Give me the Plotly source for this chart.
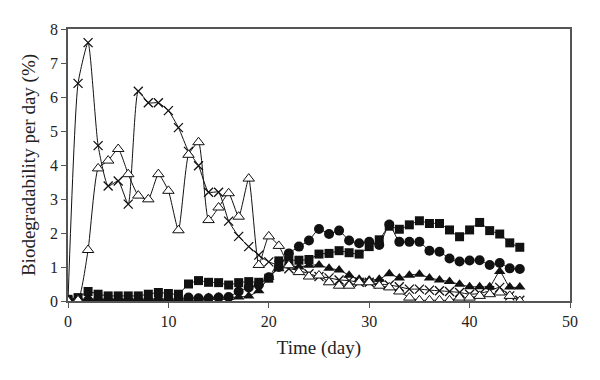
import plotly.graph_objects as go

days = list(range(0, 46))

cross_vals = [0.0, 6.4, 7.6, 4.57, 3.38, 3.53, 2.85, 6.17, 5.83, 5.83, 5.6, 5.1, 4.4, 3.98, 3.2, 3.2,
              2.35, 1.9, 1.6, 1.35, 1.15, 1.05, 0.95, 0.9, 0.8, 0.72, 0.68, 0.62, 0.6, 0.55, 0.55,
              0.5, 0.47, 0.42, 0.35, 0.35, 0.32, 0.3, 0.28, 0.25, 0.2, 0.22, 0.3, 0.4, 0.15, 0.02]

open_tri_vals = [0.0, 0.02, 1.5, 3.9, 4.13, 4.47, 3.73, 3.1, 2.99, 3.73, 3.24, 2.08, 4.3, 4.67, 2.38, 2.75,
                 3.17, 2.48, 3.6, 1.06, 1.9, 1.62, 1.05, 0.85, 0.72, 0.75, 0.55, 0.45, 0.45, 0.55, 0.55,
                 0.45, 0.4, 0.28, 0.1, 0.02, 0.02, 0.02, 0.02, 0.1, 0.1, 0.15, 0.2, 0.25, 0.15, 0.0]

square_vals = [0.05, 0.1, 0.28, 0.2, 0.15, 0.15, 0.15, 0.15, 0.2, 0.25, 0.22, 0.2, 0.5, 0.6, 0.55, 0.54,
               0.47, 0.54, 0.57, 0.55, 0.67, 1.18, 1.2, 1.2, 1.22, 1.38, 1.4, 1.48, 1.42, 1.38, 1.6,
               1.8, 2.2, 2.11, 2.24, 2.36, 2.28, 2.28, 2.09, 1.89, 2.09, 2.31, 2.07, 1.97, 1.71, 1.58]

circle_vals = [0.02, 0.02, 0.02, 0.02, 0.02, 0.02, 0.02, 0.02, 0.02, 0.02, 0.02, 0.03, 0.1, 0.08, 0.08, 0.1,
               0.12, 0.28, 0.4, 0.47, 0.7, 1.0, 1.4, 1.6, 1.78, 2.12, 1.97, 2.07, 1.78, 1.7, 1.74,
               1.65, 2.25, 1.74, 1.74, 1.74, 1.48, 1.45, 1.25, 1.16, 1.19, 1.2, 1.06, 1.12, 0.96, 0.94]

filled_tri_vals = [0.02, 0.03, 0.05, 0.05, 0.04, 0.05, 0.05, 0.05, 0.06, 0.06, 0.06, 0.06, 0.06, 0.08, 0.1, 0.12,
                   0.1, 0.12, 0.15, 0.3, 0.7, 0.95, 1.05, 1.0, 1.05, 1.06, 0.96, 0.91, 0.76, 0.64, 0.62,
                   0.64, 0.8, 0.68, 0.76, 0.79, 0.68, 0.62, 0.57, 0.49, 0.42, 0.42, 0.42, 0.87, 0.41, 0.41]

x_ticks = [0, 10, 20, 30, 40, 50]
y_ticks = [0, 1, 2, 3, 4, 5, 6, 7, 8]

BLACK = "#111111"
line_style = dict(color=BLACK, width=1, shape="spline", smoothing=0.5)

fig = go.Figure()

fig.add_trace(go.Scatter(x=days, y=square_vals, mode="lines+markers", line=line_style,
                         marker=dict(symbol="square", size=9, color=BLACK)))
fig.add_trace(go.Scatter(x=days, y=circle_vals, mode="lines+markers", line=line_style,
                         marker=dict(symbol="circle", size=10, color=BLACK)))
fig.add_trace(go.Scatter(x=days, y=filled_tri_vals, mode="lines+markers", line=line_style,
                         marker=dict(symbol="triangle-up", size=10, color=BLACK)))
fig.add_trace(go.Scatter(x=days, y=cross_vals, mode="lines+markers", line=line_style,
                         marker=dict(symbol="x-thin", size=9, color=BLACK,
                                     line=dict(color=BLACK, width=1.3))))
fig.add_trace(go.Scatter(x=days, y=open_tri_vals, mode="lines+markers", line=line_style,
                         marker=dict(symbol="triangle-up", size=10, color="white",
                                     line=dict(color=BLACK, width=1))))

axis_font = dict(family="Liberation Serif, DejaVu Serif, serif", size=16, color="#222222")

fig.update_layout(
    width=600, height=380,
    margin=dict(l=68, r=30, t=29, b=79),
    paper_bgcolor="white", plot_bgcolor="white",
    showlegend=False,
    font=axis_font,
)
fig.update_xaxes(range=[0, 50], tickvals=x_ticks, ticks="outside", ticklen=5, tickcolor="#555555",
                 showline=True, linecolor="#555555", linewidth=1.5, mirror=True, showgrid=False,
                 zeroline=False, automargin=False,
                 title=dict(text="Time (day)", standoff=12), tickfont=axis_font)
fig.update_yaxes(range=[0, 8], tickvals=y_ticks, ticks="outside", ticklen=5, tickcolor="#555555",
                 showline=True, linecolor="#555555", linewidth=1.5, mirror=True, showgrid=False,
                 zeroline=False, automargin=False,
                 title=dict(text="Biodegradability per day (%)", standoff=9),
                 tickfont=axis_font)

fig.write_html("out.html", config={"displayModeBar": False},
               post_script="document.body.style.margin='0';")
